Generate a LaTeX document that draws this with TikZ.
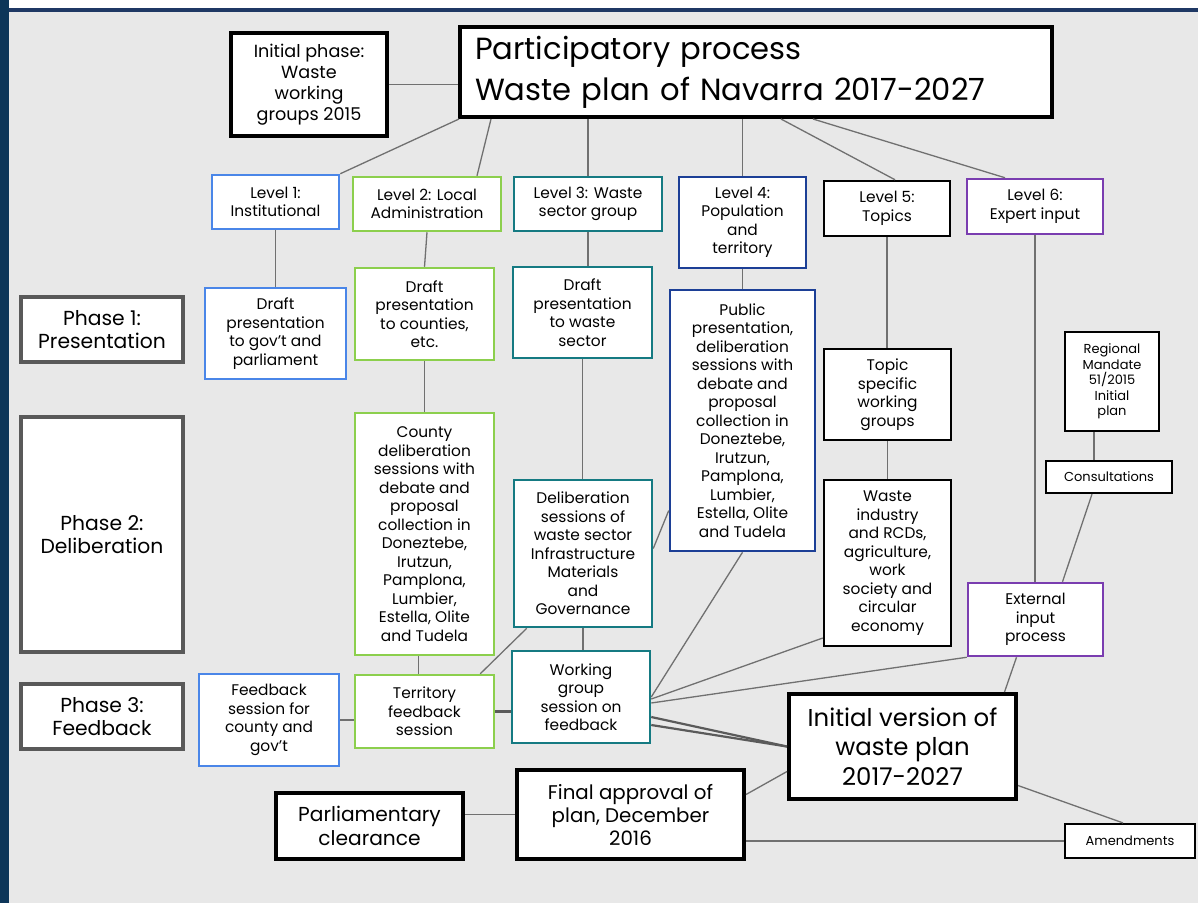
\documentclass[tikz,border=0pt]{standalone}
\usepackage{fontspec}
\setmainfont{Poppins}
\usetikzlibrary{calc}
\definecolor{bgc}{HTML}{E8E8E8}
\definecolor{navy}{HTML}{0D3659}
\definecolor{navyline}{HTML}{1F3864}
\definecolor{cblue}{HTML}{4A86E8}
\definecolor{cgreen}{HTML}{8CCF4D}
\definecolor{cteal}{HTML}{157A82}
\definecolor{cdblue}{HTML}{1C3F96}
\definecolor{cpurple}{HTML}{7A3DB0}
\definecolor{cphase}{HTML}{595959}
\definecolor{lgray}{HTML}{707070}
\newcommand\bx[7]{\node[#2, minimum width={(#5)-(#3)}, minimum height={(#6)-(#4)}] (#1) at ({((#3)+(#5))/2},{((#4)+(#6))/2}) {#7};}
\begin{document}
\begin{tikzpicture}[x=1pt,y=-1pt,
  base/.style={draw, fill=white, align=center, inner sep=0pt, font=\fontsize{15.4}{18.5}\selectfont},
  bluebox/.style={base, draw=cblue, line width=2.5pt},
  greenbox/.style={base, draw=cgreen, line width=2.5pt},
  tealbox/.style={base, draw=cteal, line width=2.5pt},
  dbluebox/.style={base, draw=cdblue, line width=2.5pt},
  purplebox/.style={base, draw=cpurple, line width=2.5pt},
  blackbox/.style={base, draw=black, line width=2.5pt},
  heavybox/.style={base, draw=black, line width=4pt},
  phasebox/.style={base, draw=cphase, line width=4pt, font=\fontsize{20.3}{23.5}\selectfont},
  smallbox/.style={base, draw=black, line width=2.2pt, font=\fontsize{13}{15.5}\selectfont},
  conn/.style={draw=lgray, line width=1.3pt},
  thickconn/.style={draw=lgray!80!black, line width=2.2pt}
]
\useasboundingbox (0,0) rectangle (1198,903);
% background frame
\fill[white] (0,0) rectangle (1198,903);
\fill[bgc] (9,12) rectangle (1198,903);
\fill[navyline] (9,8) rectangle (1198,12);
\fill[navy] (0,0) rectangle (9,903);

% nodes
\bx{title}{heavybox, text width=562pt, align=left, font=\fontsize{30.6}{38}\selectfont}{460}{27}{1052}{117}{\vspace*{3pt}Participatory process\\ Waste plan of Navarra 2017-2027}
\bx{init}{heavybox, font=\fontsize{17.6}{20.8}\selectfont}{231}{33}{387}{136}{Initial phase:\\ Waste\\ working\\ groups 2015}

\bx{lvl1}{bluebox}{212}{175}{339}{229}{Level 1:\\ Institutional}
\bx{lvl2}{greenbox}{353}{177}{501}{231}{Level 2: Local\\ Administration}
\bx{lvl3}{tealbox}{514}{177}{662}{231}{Level 3: Waste\\ sector group}
\bx{lvl4}{dbluebox}{679}{177}{806}{268}{Level 4:\\ Population\\ and\\ territory}
\bx{lvl5}{blackbox}{824}{181}{950}{236}{Level 5:\\ Topics}
\bx{lvl6}{purplebox}{967}{179}{1103}{234}{Level 6:\\ Expert input}

\bx{ph1}{phasebox}{21}{297}{183}{362}{Phase 1:\\ Presentation}
\bx{ph2}{phasebox}{21}{417}{183}{652}{Phase 2:\\ Deliberation}
\bx{ph3}{phasebox}{21}{684}{183}{749}{Phase 3:\\ Feedback}

\bx{d1}{bluebox}{205}{288}{346}{379}{Draft\\ presentation\\ to gov’t and\\ parliament}
\bx{d2}{greenbox}{355}{268}{494}{360}{Draft\\ presentation\\ to counties,\\ etc.}
\bx{d3}{tealbox}{513}{267}{652}{358}{Draft\\ presentation\\ to waste\\ sector}
\bx{pub}{dbluebox}{670}{290}{815}{551}{Public\\ presentation,\\ deliberation\\ sessions with\\ debate and\\ proposal\\ collection in\\ Doneztebe,\\ Irutzun,\\ Pamplona,\\ Lumbier,\\ Estella, Olite\\ and Tudela}
\bx{topic}{blackbox}{824}{349}{951}{440}{Topic\\ specific\\ working\\ groups}
\bx{reg}{smallbox}{1065}{332}{1159}{431}{Regional\\ Mandate\\ 51/2015\\ Initial\\ plan}
\bx{cons}{smallbox}{1046}{461}{1172}{493}{Consultations}

\bx{county}{greenbox}{355}{413}{494}{655}{County\\ deliberation\\ sessions with\\ debate and\\ proposal\\ collection in\\ Doneztebe,\\ Irutzun,\\ Pamplona,\\ Lumbier,\\ Estella, Olite\\ and Tudela}
\bx{delib}{tealbox}{514}{480}{652}{627}{Deliberation\\ sessions of\\ waste sector\\ Infrastructure\\ Materials\\ and\\ Governance}
\bx{waste}{blackbox}{824}{480}{951}{646}{Waste\\ industry\\ and RCDs,\\ agriculture,\\ work\\ society and\\ circular\\ economy}
\bx{ext}{purplebox}{968}{583}{1103}{656}{External\\ input\\ process}

\bx{fb}{bluebox}{199}{674}{339}{766}{Feedback\\ session for\\ county and\\ gov’t}
\bx{terr}{greenbox}{355}{675}{494}{748}{Territory\\ feedback\\ session}
\bx{wg}{tealbox}{512}{651}{650}{743}{Working\\ group\\ session on\\ feedback}

\bx{initver}{heavybox, font=\fontsize{24.4}{29.5}\selectfont}{789}{694}{1016}{799}{Initial version of\\ waste plan\\ 2017-2027}
\bx{final}{heavybox, font=\fontsize{19.8}{23}\selectfont}{517}{770}{744}{859}{Final approval of\\ plan, December\\ 2016}
\bx{parl}{heavybox, font=\fontsize{20.2}{24}\selectfont}{276}{793}{463}{859}{Parliamentary\\ clearance}
\bx{amend}{smallbox}{1065}{824}{1195}{858}{Amendments}

% connectors
\path[conn] (init.east) -- (init.east -| title.west);
\path[conn] ([xshift=1pt]title.south west) -- (lvl1.north east);
\path[conn] ([xshift=33pt]title.south west) -- ([xshift=50pt]lvl2.north);
\path[conn] (lvl3.north) -- (lvl3.north |- title.south);
\path[conn] (lvl4.north) -- (lvl4.north |- title.south);
\path[conn] ([xshift=323pt]title.south west) -- ([xshift=8pt]lvl5.north);
\path[conn] ([xshift=355pt]title.south west) -- ([xshift=-30pt]lvl6.north);

\path[conn] (lvl1.south) -- (lvl1.south |- d1.north);
\path[conn] (lvl2.south) -- (d2.north);
\path[conn] (lvl3.south) -- (lvl3.south |- d3.north);
\path[conn] (lvl4.south) -- (pub.north);
\path[conn] (lvl5.south) -- (lvl5.south |- topic.north);
\path[conn] (lvl6.south) -- (lvl6.south |- ext.north);

\path[conn] (d2.south) -- (county.north);
\path[conn] (d3.south) -- (d3.south |- delib.north);
\path[conn] (topic.south) -- (topic.south |- waste.north);
\path[conn] ([xshift=-18pt]reg.south) -- ([xshift=-18pt]reg.south |- cons.north);
\path[conn] ([xshift=-17pt]cons.south) -- ([xshift=27pt]ext.north);

\path[conn] ([xshift=-6pt]county.south) -- ([xshift=-6pt]terr.north);
\path[conn] ([xshift=14pt]delib.south west) -- ([xshift=-15pt]terr.north east);
\path[conn] (delib.south) -- (delib.south |- wg.north);
\path[conn] ([yshift=-90pt]pub.west) -- ([yshift=5pt]delib.east);
\path[conn] (pub.south) -- (wg.east);
\path[conn] ([yshift=-75pt]waste.west) -- ([yshift=-2pt]wg.east);
\path[conn] (ext.south west) -- ([yshift=-6pt]wg.east);
\path[thickconn] ([yshift=-20pt]wg.east) -- (initver.west);
\path[thickconn] ([yshift=-28pt]wg.east) -- (initver.west);
\path[draw=lgray!80!black, line width=3pt] (terr.east) -- (terr.east -| wg.west);
\path[conn] (fb.east) -- (fb.east -| terr.west);
\path[conn] ([xshift=-19pt]ext.south) -- ([xshift=102pt]initver.north);
\path[conn] ([yshift=20pt]final.east) -- ([yshift=-25pt]initver.west);
\path[conn] ([yshift=-39pt]initver.east) -- ([xshift=-7pt]amend.north);
\path[conn] (amend.west) -- (amend.west -| final.east);
\path[conn] (final.west) -- (final.west -| parl.east);
\end{tikzpicture}
\end{document}
